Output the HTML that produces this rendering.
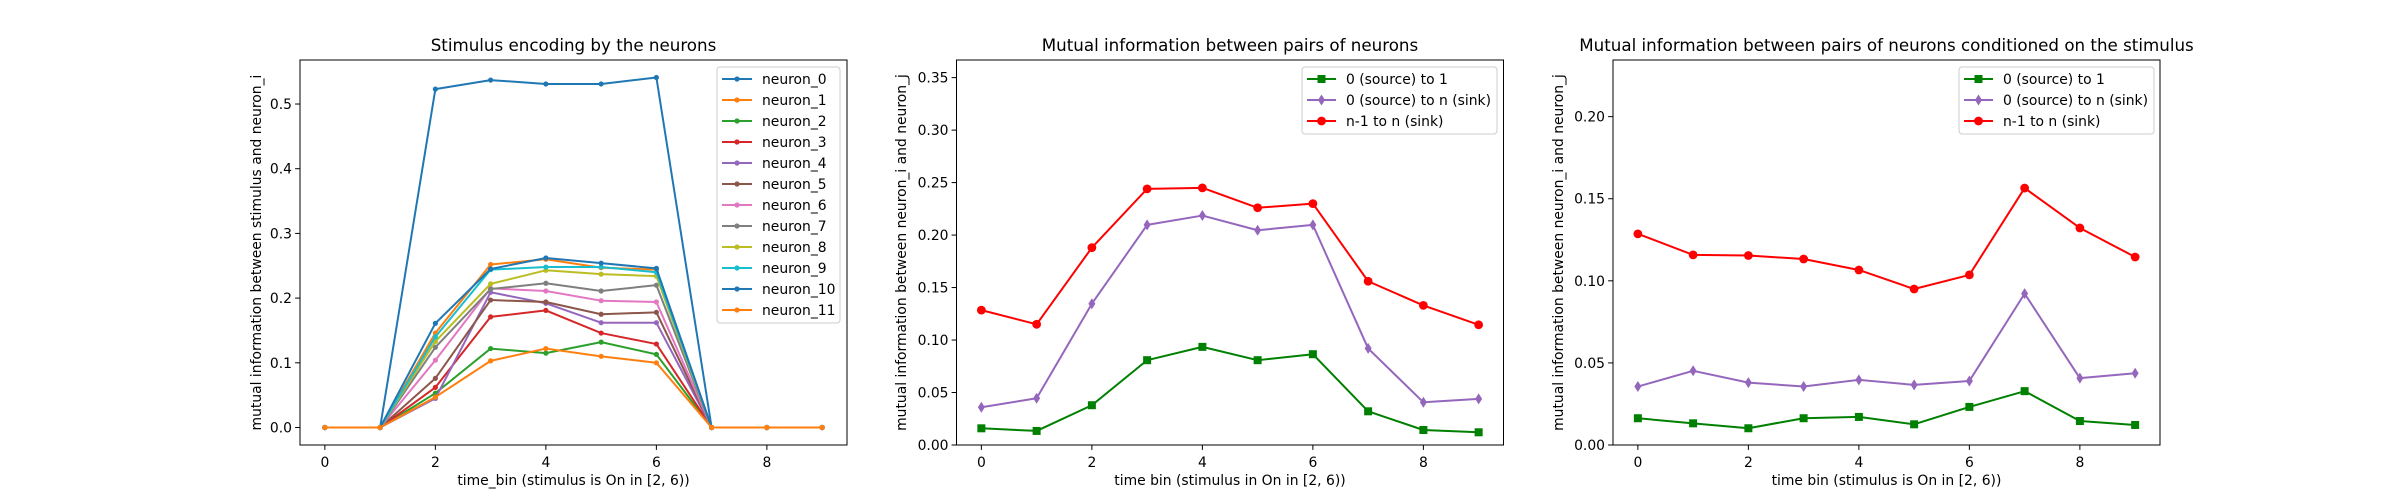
<!DOCTYPE html>
<html><head><meta charset="utf-8"><style>
html,body{margin:0;padding:0;background:#fff;}
svg{display:block;font-family:"DejaVu Sans","Liberation Sans",sans-serif;}
</style></head><body>
<svg id="fig" width="2400" height="500" viewBox="0 0 2400 500" xmlns="http://www.w3.org/2000/svg"></svg>
<script>
const xBins=[0,1,2,3,4,5,6,7,8,9];
const neuronNames=['neuron_0','neuron_1','neuron_2','neuron_3','neuron_4','neuron_5','neuron_6','neuron_7','neuron_8','neuron_9','neuron_10','neuron_11'];
const neuron0=[0,0,0.523,0.537,0.531,0.531,0.541,0,0,0];
const neuron1=[0,0,0.146,0.252,0.260,0.247,0.244,0,0,0];
const neuron2=[0,0,0.053,0.122,0.115,0.132,0.113,0,0,0];
const neuron3=[0,0,0.062,0.171,0.181,0.146,0.129,0,0,0];
const neuron4=[0,0,0.045,0.209,0.192,0.162,0.162,0,0,0];
const neuron5=[0,0,0.076,0.197,0.194,0.175,0.178,0,0,0];
const neuron6=[0,0,0.104,0.215,0.211,0.196,0.194,0,0,0];
const neuron7=[0,0,0.124,0.214,0.223,0.211,0.220,0,0,0];
const neuron8=[0,0,0.133,0.222,0.243,0.237,0.234,0,0,0];
const neuron9=[0,0,0.140,0.244,0.248,0.248,0.240,0,0,0];
const neuron10=[0,0,0.161,0.245,0.262,0.254,0.246,0,0,0];
const neuron11=[0,0,0.047,0.103,0.122,0.110,0.100,0,0,0];
const pairGreen=[0.0159,0.0134,0.0379,0.0808,0.0935,0.0808,0.0865,0.0321,0.0143,0.0121];
const pairPurple=[0.036,0.0445,0.1346,0.2097,0.2186,0.2046,0.2097,0.092,0.0407,0.0439];
const pairRed=[0.1285,0.115,0.188,0.244,0.245,0.226,0.230,0.156,0.133,0.1145];
const condGreen=[0.0163,0.0132,0.0102,0.0163,0.0171,0.0126,0.0232,0.0328,0.0146,0.0122];
const condPurple=[0.0356,0.0452,0.038,0.0356,0.0397,0.0366,0.039,0.0922,0.0407,0.0437];
const condRed=[0.1286,0.1158,0.1154,0.1133,0.1066,0.095,0.1036,0.1565,0.1322,0.1145];
const xTicks=[0,2,4,6,8];
const yTicks1=[0,0.1,0.2,0.3,0.4,0.5];
const yTicks2=[0,0.05,0.1,0.15,0.2,0.25,0.3,0.35];
const yTicks3=[0,0.05,0.1,0.15,0.2];
const pairLabels=['0 (source) to 1','0 (source) to n (sink)','n-1 to n (sink)'];

const NS='http://www.w3.org/2000/svg';
const svg=document.getElementById('fig');
function mk(tag,attrs,parent){const e=document.createElementNS(NS,tag);for(const k in attrs)e.setAttribute(k,attrs[k]);(parent||svg).appendChild(e);return e;}
const tab=['#1f77b4','#ff7f0e','#2ca02c','#d62728','#9467bd','#8c564b','#e377c2','#7f7f7f','#bcbd22','#17becf'];
const T=20,B=445,Top=60;

function axes(x0,ymin,ymax,name,title,ylabel,xlabel,yTicks,fmt,ylabX){
  const w=547,x1=x0+w;
  const g=mk('g',{});
  
  
  const sx=v=>x0+(v+0.45)/9.9*w;
  const sy=v=>B-(v-ymin)/(ymax-ymin)*(B-Top);
  const t=mk('text',{x:x0+w/2,y:51,'text-anchor':'middle','font-size':'16.7'},g);t.textContent=title;
  
  xTicks.forEach(v=>{const X=sx(v);mk('line',{x1:X,x2:X,y1:B,y2:B+4.9,stroke:'#000','stroke-width':1},g);
    const l=mk('text',{x:X,y:467,'text-anchor':'middle','font-size':'13.9'},g);l.textContent=v;
    });
  yTicks.forEach(v=>{const Y=sy(v);mk('line',{x1:x0-4.9,x2:x0,y1:Y,y2:Y,stroke:'#000','stroke-width':1},g);
    const l=mk('text',{x:x0-8,y:Y+5,'text-anchor':'end','font-size':'13.9'},g);l.textContent=v.toFixed(fmt);
    });
  const xl=mk('text',{x:x0+w/2,y:485,'text-anchor':'middle','font-size':'13.9'},g);xl.textContent=xlabel;
  
  const yl=mk('text',{x:ylabX,y:(Top+B)/2,'text-anchor':'middle','font-size':'13.9',transform:`rotate(-90 ${ylabX} ${(Top+B)/2})`},g);yl.textContent=ylabel;
  
  return {g,sx,sy,x0,x1,frame:()=>{const r=mk('rect',{x:x0,y:Top,width:w,height:B-Top,fill:'none',stroke:'#000','stroke-width':1},g);}};
}
function marker(g,type,X,Y,c){
  if(type==='.')return mk('circle',{cx:X,cy:Y,r:2.6,fill:c},g);
  if(type==='s')return mk('rect',{x:X-4,y:Y-4,width:8,height:8,fill:c},g);
  if(type==='o')return mk('circle',{cx:X,cy:Y,r:4.4,fill:c},g);
  if(type==='d')return mk('polygon',{points:`${X},${Y-5.5} ${X+3.5},${Y} ${X},${Y+5.5} ${X-3.5},${Y}`,fill:c},g);
}
function series(ax,vals,c,m,name){
  const s=mk('g',{},ax.g);
  
  
  mk('polyline',{points:vals.map((v,i)=>ax.sx(xBins[i])+','+ax.sy(v)).join(' '),fill:'none',stroke:c,'stroke-width':2,'stroke-linejoin':'round'},s);
  vals.forEach((v,i)=>{const p=marker(s,m,ax.sx(xBins[i]),ax.sy(v),c);});
}
function legend(ax,x,y,w,labels,colors,markers,lineW){
  const lg=mk('g',{},ax.g);
  
  
  const h=labels.length*21+4;
  mk('rect',{x:x,y:y,width:w,height:h,rx:3,fill:'#fff','fill-opacity':0.8,stroke:'#ccc','stroke-width':1},lg);
  labels.forEach((l,i)=>{const cy=y+12+i*21;
    const e=mk('g',{},lg);
    
    
    mk('line',{x1:x+5,x2:x+5+lineW,y1:cy,y2:cy,stroke:colors[i],'stroke-width':2},e);
    marker(e,markers[i],x+5+lineW/2,cy,colors[i]);
    const t=mk('text',{x:x+lineW+15,y:cy+5,'font-size':'13.9'},e);t.textContent=l;});
}

// chart 1
const a1=axes(300,-0.02705,0.56805,'stimulus-encoding-chart','Stimulus encoding by the neurons','mutual information between stimulus and neuron_i','time_bin (stimulus is On in [2, 6))',yTicks1,1,261);
const nData=[neuron0,neuron1,neuron2,neuron3,neuron4,neuron5,neuron6,neuron7,neuron8,neuron9,neuron10,neuron11];
const nCols=nData.map((d,i)=>tab[i%10]);
nData.forEach((d,i)=>series(a1,d,nCols[i],'.','series-'+neuronNames[i].replace('_','-')));
a1.frame();
legend(a1,717,67,123,neuronNames,nCols,nData.map(()=>'.'),30);

// chart 2
const pc=['#008000','#9467bd','#ff0000'],pm=['s','d','o'];
const a2=axes(956.5,0,0.3668,'pairwise-mi-chart','Mutual information between pairs of neurons','mutual information between neuron_i and neuron_j','time bin (stimulus in On in [2, 6))',yTicks2,2,906);
series(a2,pairGreen,pc[0],'s','series-0-to-1');
series(a2,pairPurple,pc[1],'d','series-0-to-n');
series(a2,pairRed,pc[2],'o','series-n1-to-n');
a2.frame();
legend(a2,1302,67,195,pairLabels,pc,pm,29);

// chart 3
const a3=axes(1613,0,0.2345,'conditional-mi-chart','Mutual information between pairs of neurons conditioned on the stimulus','mutual information between neuron_i and neuron_j','time bin (stimulus is On in [2, 6))',yTicks3,2,1563);
series(a3,condGreen,pc[0],'s','series-0-to-1');
series(a3,condPurple,pc[1],'d','series-0-to-n');
series(a3,condRed,pc[2],'o','series-n1-to-n');
a3.frame();
legend(a3,1959,67,195,pairLabels,pc,pm,29);
</script>
</body></html>
